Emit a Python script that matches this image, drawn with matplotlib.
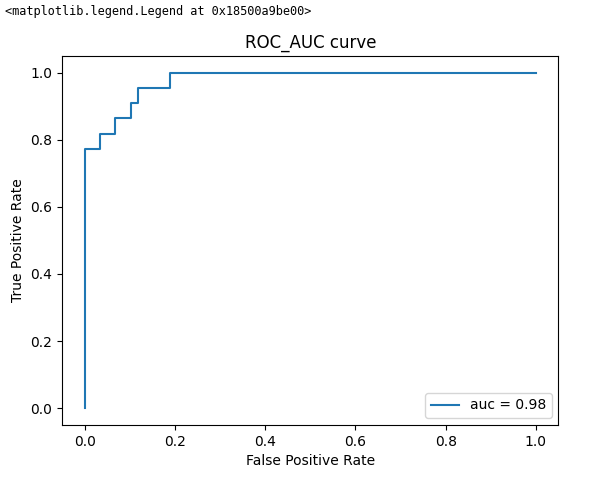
import matplotlib
matplotlib.use('Agg')
import matplotlib.pyplot as plt

# ROC curve points
fpr = [0.0, 0.0, 0.033, 0.033, 0.067, 0.067, 0.102, 0.102, 0.119, 0.119, 0.188, 0.188, 1.0]
tpr = [0.0, 0.773, 0.773, 0.818, 0.818, 0.864, 0.864, 0.909, 0.909, 0.955, 0.955, 1.0, 1.0]
auc_label = 'auc = 0.98'

fig = plt.figure(figsize=(6.09, 4.79), dpi=100)
ax = fig.add_axes([0.102, 0.113, 0.815, 0.770])

ax.plot(fpr, tpr, label=auc_label)
ax.set_title('ROC_AUC curve')
ax.set_xlabel('False Positive Rate')
ax.set_ylabel('True Positive Rate')
ax.legend(loc='lower right')

fig.text(0.008, 0.975, '<matplotlib.legend.Legend at 0x18500a9be00>',
         family='DejaVu Sans Mono', fontsize=8.6, va='center', ha='left')

fig.savefig('out.png', dpi=100)
